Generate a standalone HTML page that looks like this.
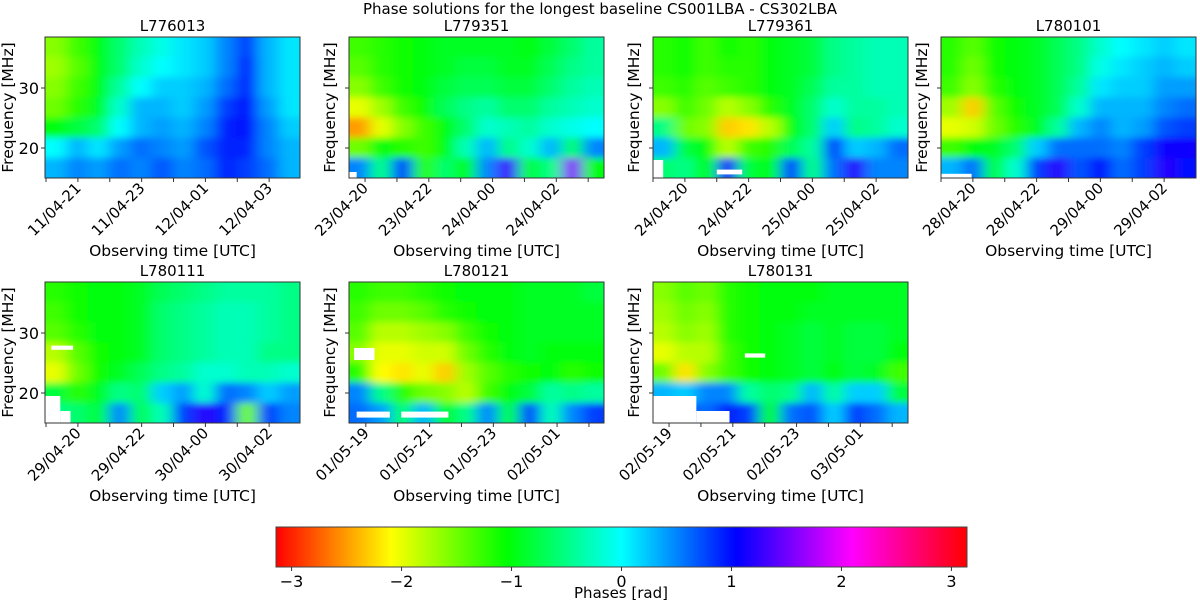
<!DOCTYPE html>
<html><head><meta charset="utf-8"><style>
body{margin:0;background:#fff;}
svg text{font-family:"DejaVu Sans","Liberation Sans",sans-serif;fill:#000;}
</style></head><body>
<svg id="fig" width="1200" height="602" viewBox="0 0 1200 602" xmlns="http://www.w3.org/2000/svg">
<defs>
<filter id="soft" x="-10%" y="-10%" width="120%" height="120%"><feGaussianBlur stdDeviation="7 3.5"/></filter>
<linearGradient id="hsvgrad" x1="0" x2="1" y1="0" y2="0">
<stop offset="0" stop-color="hsl(0,100%,50%)"/><stop offset="0.1667" stop-color="hsl(60,100%,50%)"/><stop offset="0.3333" stop-color="hsl(120,100%,50%)"/><stop offset="0.5" stop-color="hsl(180,100%,50%)"/><stop offset="0.6667" stop-color="hsl(240,100%,50%)"/><stop offset="0.8333" stop-color="hsl(300,100%,50%)"/><stop offset="1" stop-color="hsl(360,100%,50%)"/>
</linearGradient>
</defs>
<text x="600" y="14" font-size="15" text-anchor="middle">Phase solutions for the longest baseline CS001LBA - CS302LBA</text>
<g id="panels"></g>
<g>
<rect x="276" y="527" width="691" height="40" fill="url(#hsvgrad)" stroke="#444" stroke-width="1"/>
<g id="cbticks"></g>
<text x="621" y="598" font-size="15" text-anchor="middle">Phases [rad]</text>
</g>
</svg>
<script>
const panelNames = ["L776013","L779351","L779361","L780101","L780111","L780121","L780131"];
const tickLabels = [
 ["11/04-21","11/04-23","12/04-01","12/04-03"],
 ["23/04-20","23/04-22","24/04-00","24/04-02"],
 ["24/04-20","24/04-22","25/04-00","25/04-02"],
 ["28/04-20","28/04-22","29/04-00","29/04-02"],
 ["29/04-20","29/04-22","30/04-00","30/04-02"],
 ["01/05-19","01/05-21","01/05-23","02/05-01"],
 ["02/05-19","02/05-21","02/05-23","03/05-01"]
];
// first labelled tick, as fraction of time axis (each hour = 1/8 of the axis)
const firstTickFrac = [0.129,0.063,0.125,0.125,0.129,0.066,0.063];
const freqTicks = [20,30];
const colorbarTicks = [-3,-2,-1,0,1,2,3];
// phase grids: rows top(high freq) -> bottom, 12 time columns
const phases0 = [
[-1.6,-1.3,-1.0,-0.6,-0.3,-0.1,0.1,0.2,0.5,0.8,0.3,0.1],
[-1.7,-1.4,-1.0,-0.6,-0.2,0,0.1,0.2,0.5,0.9,0.3,0.1],
[-1.6,-1.3,-1.0,-0.4,0,0.2,0.2,0.3,0.6,0.9,0.3,0.1],
[-1.5,-1.2,-0.9,-0.2,0.3,0.3,0.2,0.4,0.8,1.0,0.4,0.1],
[-1.0,-0.8,-0.6,0,0.3,0.4,0.3,0.5,0.9,1.0,0.5,0.2],
[0.0,0.3,0.1,0.4,0.6,0.5,0.4,0.7,0.9,0.9,0.5,0.3],
[0.3,0.5,0.4,0.6,0.5,0.7,0.5,0.6,0.9,0.8,0.6,0.3]];
const phases1 = [
[-1.3,-1.2,-1.1,-1.0,-0.9,-0.9,-0.9,-0.9,-1.0,-0.8,-0.6,-0.4],
[-1.4,-1.2,-1.1,-1.0,-0.9,-0.8,-0.8,-0.9,-0.9,-0.7,-0.5,-0.4],
[-1.6,-1.3,-1.1,-1.0,-0.8,-0.7,-0.7,-0.8,-0.8,-0.6,-0.4,-0.3],
[-2.0,-1.7,-1.3,-1.1,-0.7,-0.5,-0.4,-0.6,-0.6,-0.4,-0.3,-0.2],
[-2.5,-2.0,-1.6,-1.3,-1.0,-0.6,-0.2,-0.3,-0.4,-0.2,-0.1,0],
[-1.5,-1.0,-1.2,-1.3,-1.0,-0.3,0.3,-0.5,-0.2,0.3,-0.6,0.5],
[0.5,-0.5,0.8,-1.2,-0.6,-1.0,0.5,1.3,-0.8,-0.5,1.6,-1.0]];
const phases2 = [
[-1.2,-1.1,-1.3,-1.1,-1.2,-1.0,-0.9,-0.8,-0.5,-0.4,-0.3,-0.3],
[-1.2,-1.1,-1.3,-1.2,-1.2,-1.0,-0.9,-0.8,-0.5,-0.4,-0.3,-0.3],
[-1.3,-1.2,-1.4,-1.3,-1.2,-1.0,-0.9,-0.7,-0.4,-0.4,-0.3,-0.3],
[-1.6,-1.3,-1.5,-1.8,-1.6,-1.2,-0.9,-0.6,-0.2,-0.4,-0.4,-0.3],
[-0.5,-1.5,-1.6,-2.3,-2.2,-1.8,-1.0,-0.6,0.2,-0.5,-0.4,-0.2],
[0.3,-0.8,-1.0,-1.8,-1.3,-1.2,-0.7,-0.4,0.8,0.2,0.3,0.6],
[-0.6,-0.5,-1.0,1.2,-0.8,-1.0,0.8,-0.5,0.6,1.2,0.5,0.5]];
const phases3 = [
[-1.2,-1.4,-1.1,-1.0,-0.9,-0.7,-0.5,-0.2,0,0.1,0.2,0.1],
[-1.2,-1.5,-1.1,-1.0,-0.9,-0.7,-0.5,-0.1,0.1,0.2,0.3,0.2],
[-1.3,-1.6,-1.2,-1.0,-0.9,-0.7,-0.4,0.1,0.2,0.2,0.4,0.4],
[-1.7,-2.3,-1.4,-1.1,-0.9,-0.7,-0.2,0.3,0.3,0.3,0.5,0.6],
[-2.0,-1.9,-1.5,-1.2,-0.9,-0.4,0.3,0.5,0.3,0.4,0.7,0.8],
[-1.3,-1.0,-0.9,-0.6,0.2,0.6,0.6,0.6,0.5,0.8,1.1,1.1],
[0.3,0.6,-0.8,-0.2,0.8,1.2,0.7,1.0,0.6,0.8,1.2,1.0]];
const phases4 = [
[-1.2,-1.1,-1.0,-1.0,-0.9,-0.7,-0.6,-0.5,-0.4,-0.4,-0.4,-0.5],
[-1.3,-1.1,-1.0,-1.0,-0.9,-0.6,-0.5,-0.4,-0.3,-0.3,-0.4,-0.5],
[-1.4,-1.2,-1.0,-1.0,-0.9,-0.6,-0.5,-0.4,-0.3,-0.3,-0.4,-0.5],
[-1.8,-1.4,-1.1,-1.0,-0.9,-0.6,-0.5,-0.4,-0.3,-0.3,-0.5,-0.5],
[-2.0,-1.5,-1.1,-0.9,-0.7,-0.5,-0.4,-0.2,-0.2,-0.3,-0.3,-0.2],
[-0.8,-1.2,-0.9,-0.5,-0.6,0.2,0.4,-0.2,0.6,0.5,0.2,0.4],
[-0.5,-0.6,-0.8,0.5,-0.7,-0.3,0.8,1.2,0.9,-1.5,0.8,0.5]];
const phases5 = [
[-1.2,-1.3,-1.3,-1.2,-1.1,-1.0,-1.0,-1.0,-0.9,-0.9,-0.9,-0.8],
[-1.3,-1.5,-1.5,-1.4,-1.2,-1.1,-1.0,-1.0,-0.9,-0.9,-0.9,-0.9],
[-1.4,-1.8,-1.8,-1.7,-1.6,-1.3,-1.1,-1.0,-0.9,-0.9,-0.9,-0.9],
[-1.6,-2.0,-2.0,-1.9,-1.9,-1.5,-1.2,-1.0,-0.9,-1.0,-1.0,-1.0],
[-1.2,-2.1,-2.2,-2.0,-2.3,-1.7,-1.4,-1.2,-1.1,-1.0,-1.2,-1.1],
[0.5,-0.5,-1.2,-1.5,-1.6,-1.8,-1.3,-1.0,-0.8,-0.4,-0.5,-0.4],
[0.6,0.4,-0.6,0.3,-0.9,-0.5,0.5,-0.8,0.8,-0.3,0.5,0.8]];
const phases6 = [
[-1.6,-1.4,-1.5,-1.2,-1.1,-1.0,-1.0,-1.0,-0.9,-0.9,-0.9,-0.9],
[-1.7,-1.5,-1.6,-1.2,-1.1,-1.0,-1.0,-0.9,-0.9,-0.9,-0.9,-0.9],
[-1.8,-1.6,-1.7,-1.2,-1.1,-1.0,-0.9,-0.8,-0.9,-0.8,-0.8,-0.9],
[-2.0,-1.8,-1.8,-1.3,-1.1,-1.0,-0.9,-0.8,-0.9,-0.8,-0.8,-1.0],
[-1.5,-2.2,-1.6,-1.3,-1.1,-1.0,-0.9,-0.8,-1.0,-0.8,-0.9,-1.3],
[0.3,0.2,0.5,0.5,-0.4,-0.6,-0.5,0.3,-0.4,0.2,0.2,-0.8],
[0.5,0.7,0.6,0.9,0.8,-1.0,0.6,0.7,0.2,0.8,0.6,0.3]];
const allPhases = [phases0,phases1,phases2,phases3,phases4,phases5,phases6];
// flagged (white) regions: [t0,t1,f0,f1] as time fraction and MHz
const masks = [
 [],
 [[0,0.03,15,16]],
 [[0,0.04,15,18],[0.25,0.35,15.6,16.4]],
 [[0,0.12,15,15.7]],
 [[0.025,0.11,27.2,27.9],[0,0.06,15,19.5],[0.06,0.1,15,17]],
 [[0.03,0.16,15.9,16.9],[0.205,0.39,15.9,16.9],[0.02,0.1,25.5,27.5]],
 [[0.36,0.44,25.9,26.6],[0,0.17,15,19.5],[0.17,0.3,15,17]]
];
const FMIN=15, FMAX=38.5;
const layout=[[45,37],[349,37],[653,37],[941,37],[45,282],[349,282],[653,282]];
const PW=255, PH=141;
const NS="http://www.w3.org/2000/svg";
function mk(tag,attrs,parent){const e=document.createElementNS(NS,tag);for(const k in attrs)e.setAttribute(k,attrs[k]);parent.appendChild(e);return e;}
function col(v){const t=(v+Math.PI)/(2*Math.PI);return "hsl("+(t*360).toFixed(1)+",100%,50%)";}
const root=document.getElementById("panels");
panelNames.forEach((name,p)=>{
 const [x0,y0]=layout[p];
 const xS=t=>x0+t*PW;
 const yS=f=>y0+(FMAX-f)/(FMAX-FMIN)*PH;
 const g=mk("g",{},root);
 
 
 const cp=mk("clipPath",{id:"cp"+p},g);
 mk("rect",{x:x0,y:y0,width:PW,height:PH},cp);
 const hm=mk("g",{"clip-path":"url(#cp"+p+")"},g);
 
 
 const inner=mk("g",{filter:"url(#soft)"},hm);
 const grid=allPhases[p];
 const nr=grid.length, nc=grid[0].length;
 const EX=24, EY=14;
 grid.forEach((row,r)=>{row.forEach((v,c)=>{
   const fTop=FMAX-r*(FMAX-FMIN)/nr, fBot=FMAX-(r+1)*(FMAX-FMIN)/nr;
   let cx=xS(c/nc), cx2=xS((c+1)/nc);
   if(c===0)cx-=EX; if(c===nc-1)cx2+=EX;
   let ry=yS(fTop), ry2=yS(fBot);
   if(r===0)ry-=EY; if(r===nr-1)ry2+=EY;
   const cell=mk("rect",{x:cx.toFixed(1),y:ry.toFixed(1),width:(cx2-cx+0.6).toFixed(1),height:(ry2-ry+0.6).toFixed(1),fill:col(v)},inner);
   
   
 });});
 masks[p].forEach(m=>{
   const mr=mk("rect",{x:xS(m[0]),y:yS(m[3]),width:xS(m[1])-xS(m[0]),height:yS(m[2])-yS(m[3]),fill:"#fff"},hm);
   
   
 });
 const frame=mk("rect",{x:x0,y:y0,width:PW,height:PH,fill:"none",stroke:"#333","stroke-width":1},g);
 
 
 const title=mk("text",{x:x0+PW/2,y:y0-6,"font-size":15,"text-anchor":"middle"},g);
 title.textContent=name;
 
 
 const step=1/8;
 for(let t=firstTickFrac[p]-step;t<1;t+=step){ if(t<0)continue;
   const tk=mk("line",{x1:xS(t),x2:xS(t),y1:y0+PH,y2:y0+PH+4,stroke:"#333","stroke-width":1},g);
   
   
 }
 tickLabels[p].forEach((lab,i)=>{
   const t=firstTickFrac[p]+i*2*step;
   const tx=xS(t)+4, ty=y0+PH+11;
   const tl=mk("text",{x:tx,y:ty,"font-size":15,"text-anchor":"end",transform:"rotate(-45 "+tx+" "+ty+")"},g);
   tl.textContent=lab;
   
   
 });
 const xl=mk("text",{x:x0+PW/2,y:y0+PH+78,"font-size":15.5,"text-anchor":"middle"},g);
 xl.textContent="Observing time [UTC]";
 
 
 const showY=(p===0||p===4);
 freqTicks.forEach(f=>{
   const ty=mk("line",{x1:x0-4,x2:x0,y1:yS(f),y2:yS(f),stroke:"#333","stroke-width":1},g);
   
   
   if(showY){
     const yl=mk("text",{x:x0-6,y:yS(f)+6,"font-size":16,"text-anchor":"end"},g);
     yl.textContent=f;
     
     
   }
 });
 const lx=showY?x0-32:x0-14, ly=y0+PH/2;
 const yt=mk("text",{x:lx,y:ly,"font-size":15.5,"text-anchor":"middle",transform:"rotate(-90 "+lx+" "+ly+")"},g);
 yt.textContent="Frequency [MHz]";
 
 
});
const cb=document.getElementById("cbticks");
const cbX=v=>276+(v+Math.PI)/(2*Math.PI)*691;
colorbarTicks.forEach(v=>{
 const l=mk("line",{x1:cbX(v),x2:cbX(v),y1:567,y2:571,stroke:"#333"},cb);
 
 
 const t=mk("text",{x:cbX(v),y:587,"font-size":16,"text-anchor":"middle"},cb);
 t.textContent=v<0?"\u2212"+(-v):String(v);
 
 
});
</script>
</body></html>
